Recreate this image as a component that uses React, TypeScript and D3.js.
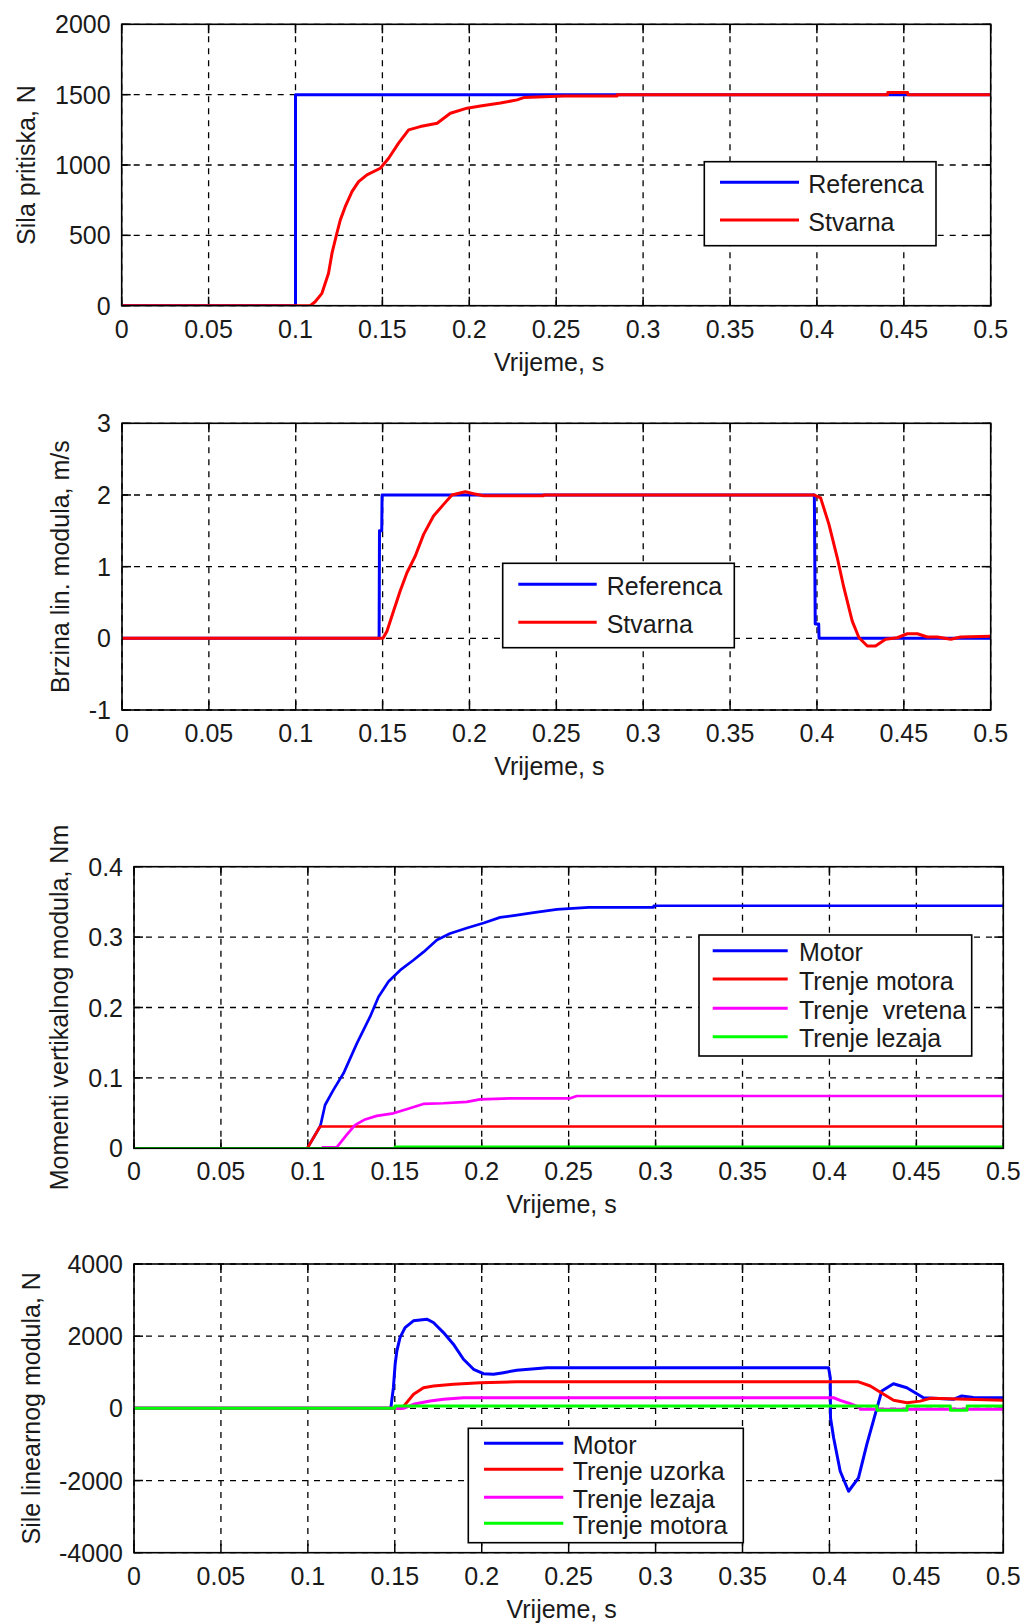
import React from 'react';
import * as d3 from 'd3';

// ---------- shared axis data ----------
const xTicks = [0, 0.05, 0.1, 0.15, 0.2, 0.25, 0.3, 0.35, 0.4, 0.45, 0.5];
const xLabel = 'Vrijeme, s';

// ---------- panel 1: Sila pritiska ----------
const p1YTicks = [0, 500, 1000, 1500, 2000];
const p1YLabel = 'Sila pritiska, N';
const p1Names = ['Referenca', 'Stvarna'];
const p1Colors = ['#0000ff', '#ff0000'];
const forceReference: [number, number][] = [
  [0, 0], [0.1, 0], [0.1, 1500], [0.5, 1500],
];
const forceActual: [number, number][] = [
  [0, 0], [0.1085, 0], [0.1113, 28], [0.1152, 88], [0.119, 230], [0.121, 373],
  [0.1238, 515], [0.1258, 610], [0.1286, 704], [0.1325, 811], [0.1363, 882],
  [0.1411, 930], [0.1488, 977], [0.1536, 1048], [0.1593, 1155], [0.1651, 1250],
  [0.1718, 1273], [0.1815, 1297], [0.1891, 1368], [0.1987, 1404], [0.2064, 1420],
  [0.2179, 1440], [0.2275, 1463], [0.2313, 1479], [0.2544, 1491], [0.2851, 1491],
  [0.2852, 1500], [0.4407, 1500], [0.4408, 1515], [0.4522, 1515], [0.4523, 1500],
  [0.5, 1500],
];

// ---------- panel 2: Brzina ----------
const p2YTicks = [-1, 0, 1, 2, 3];
const p2YLabel = 'Brzina lin. modula, m/s';
const p2Names = ['Referenca', 'Stvarna'];
const p2Colors = ['#0000ff', '#ff0000'];
const speedReference: [number, number][] = [
  [0, 0], [0.148, 0], [0.1482, 1.5], [0.1495, 1.5], [0.1497, 2], [0.3985, 2],
  [0.399, 0.2], [0.401, 0.2], [0.4012, 0], [0.5, 0],
];
const speedActual: [number, number][] = [
  [0, 0], [0.1502, 0], [0.1525, 0.1], [0.1563, 0.38], [0.1601, 0.66], [0.164, 0.915],
  [0.1688, 1.148], [0.1736, 1.45], [0.1793, 1.706], [0.1851, 1.869], [0.1899, 1.999],
  [0.1976, 2.045], [0.2024, 2.017], [0.2081, 1.99], [0.2427, 1.99], [0.2428, 2],
  [0.3982, 2], [0.4021, 1.96], [0.4069, 1.59], [0.4117, 1.124], [0.4155, 0.706],
  [0.4203, 0.24], [0.4242, 0.008], [0.429, -0.107], [0.4337, -0.107], [0.4395, -0.014],
  [0.4462, 0.008], [0.452, 0.064], [0.4578, 0.064], [0.4635, 0.018], [0.4693, 0.018],
  [0.477, -0.014], [0.4827, 0.018], [0.5, 0.03],
];

// ---------- panel 3: Momenti ----------
const p3YTicks = [0, 0.1, 0.2, 0.3, 0.4];
const p3YLabel = 'Momenti vertikalnog modula, Nm';
const p3Names = ['Motor', 'Trenje motora', 'Trenje  vretena', 'Trenje lezaja'];
const p3Colors = ['#0000ff', '#ff0000', '#ff00ff', '#00ff00'];
const torqueMotor: [number, number][] = [
  [0, 0], [0.0997, 0], [0.107, 0.031], [0.1075, 0.035], [0.1099, 0.0615], [0.1147, 0.083],
  [0.1205, 0.1065], [0.1282, 0.149], [0.1358, 0.187], [0.1406, 0.215], [0.1464, 0.237],
  [0.1531, 0.253], [0.1608, 0.2675], [0.1666, 0.279], [0.1742, 0.296], [0.1818, 0.305],
  [0.1915, 0.313], [0.2011, 0.32], [0.2106, 0.328], [0.2183, 0.3305], [0.2298, 0.3347],
  [0.2433, 0.3395], [0.2615, 0.3423], [0.2989, 0.3423], [0.299, 0.3445], [0.5, 0.3445],
];
const torqueMotorFriction: [number, number][] = [
  [0, 0], [0.0997, 0], [0.107, 0.031], [0.5, 0.031],
];
const torqueSpindleFriction: [number, number][] = [
  [0.108, 0.0012], [0.1166, 0.0012], [0.1223, 0.019], [0.1271, 0.033], [0.1329, 0.041], [0.1396, 0.046],
  [0.1492, 0.0497], [0.1568, 0.0554], [0.1664, 0.063], [0.1779, 0.064], [0.1914, 0.066],
  [0.199, 0.0696], [0.2182, 0.071], [0.2509, 0.071], [0.2547, 0.0743], [0.5, 0.0743],
];
const torqueBearingFriction: [number, number][] = [
  [0, 0], [0.15, 0], [0.1501, 0.002], [0.5, 0.002],
];

// ---------- panel 4: Sile ----------
const p4YTicks = [-4000, -2000, 0, 2000, 4000];
const p4YLabel = 'Sile linearnog modula, N';
const p4Names = ['Motor', 'Trenje uzorka', 'Trenje lezaja', 'Trenje motora'];
const p4Colors = ['#0000ff', '#ff0000', '#ff00ff', '#00ff00'];
const forceMotor: [number, number][] = [
  [0, 0], [0.1477, 0], [0.1492, 573], [0.1502, 1222], [0.1512, 1592], [0.153, 1961],
  [0.1559, 2239], [0.1607, 2425], [0.1684, 2472], [0.1722, 2378], [0.178, 2100],
  [0.1837, 1778], [0.1895, 1361], [0.1953, 1083], [0.201, 961], [0.2068, 944],
  [0.2125, 989], [0.2202, 1056], [0.2375, 1128], [0.3995, 1128], [0.4005, 850],
  [0.4006, -261], [0.4024, -817], [0.4062, -1742], [0.411, -2297], [0.4167, -1928],
  [0.4215, -1000], [0.4263, -167], [0.4301, 481], [0.4368, 683], [0.4445, 572],
  [0.4541, 294], [0.4713, 250], [0.4761, 342], [0.4828, 300], [0.5, 294],
];
const forceSampleFriction: [number, number][] = [
  [0, 0], [0.1541, 0], [0.1608, 389], [0.1665, 572], [0.1723, 619], [0.1838, 667],
  [0.1992, 711], [0.2203, 735], [0.4167, 735], [0.4235, 619], [0.4312, 389],
  [0.4369, 222], [0.4446, 156], [0.4523, 200], [0.458, 278], [0.4792, 250], [0.5, 222],
];
const forceBearingFriction: [number, number][] = [
  [0, 0], [0.155, 0], [0.1607, 111], [0.1703, 203], [0.178, 250], [0.1895, 294],
  [0.4024, 294], [0.4062, 222], [0.412, 128], [0.4177, 17], [0.4178, -28], [0.5, -28],
];
const forceMotorFriction: [number, number][] = [
  [0, 0], [0.15, 0], [0.1501, 64], [0.4273, 64], [0.4274, -56], [0.4446, -56],
  [0.4447, 64], [0.4695, 64], [0.4696, -56], [0.4791, -56], [0.4792, 64], [0.5, 64],
];

// ---------- layout ----------
type Legend = { x0: number; x1: number; y0: number; y1: number; lx0: number; lx1: number; rows: number[]; tx: number };
type Layout = { left: number; right: number; top: number; bottom: number; yLabelX: number; legend: Legend; lw: number };

const FONT = '"Liberation Sans", Arial, Helvetica, sans-serif';
const FS = 25;
const TEXT = '#1a1a1a';

const layouts: Layout[] = [
  { left: 121.7, right: 990.7, top: 24.3, bottom: 305.7, yLabelX: 35, lw: 3,
    legend: { x0: 704.3, x1: 936, y0: 161.7, y1: 245.7, lx0: 720, lx1: 799, rows: [182.3, 220], tx: 808.3 } },
  { left: 122, right: 990.7, top: 423.3, bottom: 710, yLabelX: 69, lw: 3,
    legend: { x0: 502.7, x1: 734.3, y0: 563.3, y1: 647.7, lx0: 518.3, lx1: 596.7, rows: [584.3, 622.3], tx: 606.7 } },
  { left: 134, right: 1003.3, top: 866.7, bottom: 1148.3, yLabelX: 68, lw: 2.7,
    legend: { x0: 699, x1: 971.7, y0: 935, y1: 1056, lx0: 712.7, lx1: 787.7, rows: [950.7, 979, 1008.3, 1036.7], tx: 799 } },
  { left: 134, right: 1003.3, top: 1264, bottom: 1552.7, yLabelX: 40, lw: 3,
    legend: { x0: 468.3, x1: 743.3, y0: 1428.3, y1: 1542.7, lx0: 484, lx1: 563.3, rows: [1443.3, 1469.3, 1497.3, 1523.3], tx: 572.7 } },
];

type PanelProps = {
  id: string;
  layout: Layout;
  yTicks: number[];
  yLabel: string;
  names: string[];
  colors: string[];
  series: [number, number][][];
};

function Panel({ id, layout, yTicks, yLabel, names, colors, series }: PanelProps) {
  const { left, right, top, bottom, legend } = layout;
  const x = d3.scaleLinear().domain([xTicks[0], xTicks[xTicks.length - 1]]).range([left, right]);
  const y = d3.scaleLinear().domain([yTicks[0], yTicks[yTicks.length - 1]]).range([bottom, top]);
  const line = d3.line<[number, number]>().x((d) => x(d[0])).y((d) => y(d[1]));
  const tl = 9;
  const dash = '6,6';
  return (
    <g>
      <defs>
        <clipPath id={id}>
          <rect x={left} y={top} width={right - left} height={bottom - top} />
        </clipPath>
      </defs>
      <rect x={left} y={top} width={right - left} height={bottom - top} fill="#fff" />
      {/* grid */}
      {xTicks.map((t, i) => (
        <line key={'gx' + i} x1={x(t)} x2={x(t)} y1={top} y2={bottom} stroke="#000" strokeWidth={1.3} strokeDasharray={dash} />
      ))}
      {yTicks.map((t, i) => (
        <line key={'gy' + i} x1={left} x2={right} y1={y(t)} y2={y(t)} stroke="#000" strokeWidth={1.3} strokeDasharray={dash} />
      ))}
      {/* ticks */}
      {xTicks.map((t, i) => (
        <g key={'tx' + i} stroke="#000" strokeWidth={1.5}>
          <line x1={x(t)} x2={x(t)} y1={bottom} y2={bottom - tl} />
          <line x1={x(t)} x2={x(t)} y1={top} y2={top + tl} />
        </g>
      ))}
      {yTicks.map((t, i) => (
        <g key={'ty' + i} stroke="#000" strokeWidth={1.5}>
          <line x1={left} x2={left + tl} y1={y(t)} y2={y(t)} />
          <line x1={right} x2={right - tl} y1={y(t)} y2={y(t)} />
        </g>
      ))}
      {/* data */}
      <g clipPath={`url(#${id})`}>
        {series.map((s, i) => (
          <path key={'s' + i} d={line(s) || ''} fill="none" stroke={colors[i]} strokeWidth={layout.lw} strokeLinejoin="round" />
        ))}
      </g>
      {/* box */}
      <rect x={left} y={top} width={right - left} height={bottom - top} fill="none" stroke="#000" strokeWidth={1.6} />
      {/* tick labels */}
      {xTicks.map((t, i) => (
        <text key={'lx' + i} x={x(t)} y={bottom + 32} textAnchor="middle" fontSize={FS} fontFamily={FONT} fill={TEXT}>
          {String(t)}
        </text>
      ))}
      {yTicks.map((t, i) => (
        <text key={'ly' + i} x={left - 11} y={y(t) + 9} textAnchor="end" fontSize={FS} fontFamily={FONT} fill={TEXT}>
          {String(t)}
        </text>
      ))}
      {/* axis labels */}
      <text x={(left + right) / 2 - 7} y={bottom + 65} textAnchor="middle" fontSize={FS} fontFamily={FONT} fill={TEXT}>
        {xLabel}
      </text>
      <text
        transform={`translate(${layout.yLabelX},${(top + bottom) / 2}) rotate(-90)`}
        textAnchor="middle"
        fontSize={FS}
        fontFamily={FONT}
        fill={TEXT}
      >
        {yLabel}
      </text>
      {/* legend */}
      <rect x={legend.x0} y={legend.y0} width={legend.x1 - legend.x0} height={legend.y1 - legend.y0} fill="#fff" stroke="#000" strokeWidth={1.6} />
      {names.map((n, i) => (
        <g key={'lg' + i}>
          <line x1={legend.lx0} x2={legend.lx1} y1={legend.rows[i]} y2={legend.rows[i]} stroke={colors[i]} strokeWidth={3} />
          <text x={legend.tx} y={legend.rows[i] + 10.5} fontSize={FS} fontFamily={FONT} fill={TEXT} style={{ whiteSpace: 'pre' }}>
            {n}
          </text>
        </g>
      ))}
    </g>
  );
}

export default function App() {
  return (
    <svg
      width={1023}
      height={1623}
      viewBox="0 0 1023 1623"
      style={{ position: 'absolute', left: 0, top: 0, display: 'block', background: '#fff' }}
    >
      <rect x={0} y={0} width={1023} height={1623} fill="#fff" />
      <Panel id="c1" layout={layouts[0]} yTicks={p1YTicks} yLabel={p1YLabel} names={p1Names} colors={p1Colors}
        series={[forceReference, forceActual]} />
      <Panel id="c2" layout={layouts[1]} yTicks={p2YTicks} yLabel={p2YLabel} names={p2Names} colors={p2Colors}
        series={[speedReference, speedActual]} />
      <Panel id="c3" layout={layouts[2]} yTicks={p3YTicks} yLabel={p3YLabel} names={p3Names} colors={p3Colors}
        series={[torqueMotor, torqueMotorFriction, torqueSpindleFriction, torqueBearingFriction]} />
      <Panel id="c4" layout={layouts[3]} yTicks={p4YTicks} yLabel={p4YLabel} names={p4Names} colors={p4Colors}
        series={[forceMotor, forceSampleFriction, forceBearingFriction, forceMotorFriction]} />
    </svg>
  );
}
